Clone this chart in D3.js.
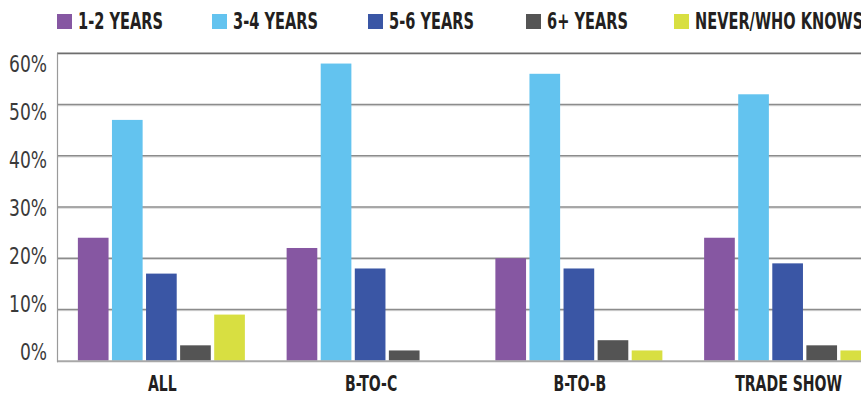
<!DOCTYPE html>
<html><head><meta charset="utf-8">
<script src="https://cdn.jsdelivr.net/npm/d3@7"></script>
<style>body{margin:0;background:#fff}svg{display:block}</style>
</head><body>
<svg id="c" width="861" height="394"></svg>
<script>
const categories = ["ALL", "B-TO-C", "B-TO-B", "TRADE SHOW"];
const seriesNames = ["1-2 YEARS", "3-4 YEARS", "5-6 YEARS", "6+ YEARS", "NEVER/WHO KNOWS"];
const s12 = [24, 22, 20, 24];
const s34 = [47, 58, 56, 52];
const s56 = [17, 18, 18, 19];
const s6p = [3, 2, 4, 3];
const sNever = [9, 0, 2, 2];
const yTicks = [0, 10, 20, 30, 40, 50, 60];
const colors = ["#8657a2", "#63c3ef", "#3a56a5", "#545454", "#d8df41"];

const seriesVals = [s12, s34, s56, s6p, sNever];
const data = categories.map((c, i) => ({cat: c, vals: seriesNames.map((s, j) => ({s, v: seriesVals[j][i]}))}));

const svg = d3.select("#c");
const font = "'DejaVu Sans Condensed','Liberation Sans Narrow',sans-serif";

const y = d3.scaleLinear().domain([0, 60]).range([360.7, 53.3]);
// tick labels in the reference sit on their own, slightly tighter spacing
const yLab = d3.scaleLinear().domain([0, 60]).range([351, 63.5]);
const x0 = d3.scaleBand().domain(categories).range([57, 892]).paddingInner(0.2).paddingOuter(0.1);
const x1 = d3.scaleBand().domain(seriesNames).range([0, x0.bandwidth()]).paddingInner(0.1);
const color = d3.scaleOrdinal().domain(seriesNames).range(colors);

function condense(sel, refText, target) {
  let k = 1;
  sel.each(function () { if (this.textContent === refText) k = target / this.getComputedTextLength(); });
  sel.attr("transform", function () { const t = d3.select(this).attr("transform"); return (t ? t + " " : "") + `scale(${k},1)`; });
}

// gridlines
const g = svg.append("g");
yTicks.forEach(t => {
  if (t === 0) return;
  g.append("line").attr("x1", 57).attr("x2", 861).attr("y1", y(t) + 1.2).attr("y2", y(t) + 1.2)
    .attr("stroke", "#d6d6d6").attr("stroke-width", 1);
  g.append("line").attr("x1", 57).attr("x2", 861).attr("y1", y(t)).attr("y2", y(t))
    .attr("stroke", t === 60 ? "#6e6e6e" : "#8c8c8c").attr("stroke-width", 1.4);
});

// bars
const groups = svg.append("g").selectAll("g").data(data).join("g")
  .attr("transform", d => `translate(${x0(d.cat)},0)`);
groups.selectAll("rect").data(d => d.vals).join("rect")
  .attr("x", d => x1(d.s)).attr("width", x1.bandwidth())
  .attr("y", d => y(d.v)).attr("height", d => y(0) - y(d.v))
  .attr("fill", d => color(d.s));

// baseline & y axis line
svg.append("line").attr("x1", 57).attr("x2", 861).attr("y1", y(0) + 0.5).attr("y2", y(0) + 0.5)
  .attr("stroke", "#a8a8a8").attr("stroke-width", 2);
svg.append("line").attr("x1", 57.5).attr("x2", 57.5).attr("y1", y(60)).attr("y2", y(0) + 1.5)
  .attr("stroke", "#9a9a9a").attr("stroke-width", 1.2);

// y tick labels
const yAxis = d3.axisLeft(yLab).tickValues(yTicks).tickFormat(d => d + "%").tickSize(0).tickPadding(0);
const ya = svg.append("g").attr("transform", "translate(47,0)").call(yAxis);
ya.select(".domain").remove();
const yt = ya.selectAll("text").attr("font-family", font).attr("font-size", 22.5).attr("fill", "#3a3a3a")
  .attr("dy", "0.36em");
condense(yt, "60%", 38);

// x labels
const xAxis = d3.axisBottom(x0).tickSize(0).tickPadding(0);
const xa = svg.append("g").attr("transform", `translate(1,${y(0) + 30})`).call(xAxis);
xa.select(".domain").remove();
const xt = xa.selectAll("text").attr("font-family", font).attr("font-size", 22).attr("fill", "#231f20")
  .attr("dy", 0).attr("font-weight", "bold");
condense(xt, "TRADE SHOW", 107);

// legend
const legX = [57, 212, 368, 526, 674];
const leg = svg.append("g").selectAll("g").data(seriesNames).join("g")
  .attr("transform", (d, i) => `translate(${legX[i]},14)`);
leg.append("rect").attr("width", 15).attr("height", 15).attr("fill", d => color(d));
const lt = leg.append("g").attr("transform", "translate(21,15)").append("text").text(d => d)
  .attr("font-family", font).attr("font-size", 23.5).attr("fill", "#231f20").attr("font-weight", "bold");
condense(lt, "1-2 YEARS", 85);
</script>
</body></html>
